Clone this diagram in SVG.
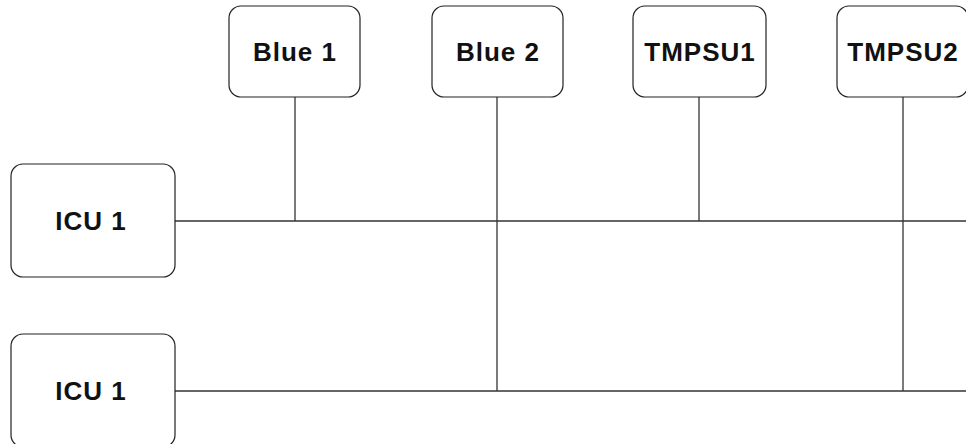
<svg xmlns="http://www.w3.org/2000/svg" width="966" height="444" viewBox="0 0 966 444">
  <style>
    .box { fill: #ffffff; stroke: #222222; stroke-width: 1.2; }
    .lbl { font-family: "Liberation Sans", Arial, sans-serif; font-weight: bold; font-size: 26px; letter-spacing: 1px; fill: #111111; text-anchor: middle; }
    .wire { stroke: #333333; stroke-width: 1.3; fill: none; }
  </style>
  <rect width="966" height="444" fill="#ffffff"/>

  <g id="connectors">
    <!-- upper bus -->
    <line class="wire" x1="175" y1="221" x2="966" y2="221"/>
    <!-- lower bus -->
    <line class="wire" x1="175" y1="391" x2="966" y2="391"/>
    <!-- drops -->
    <line class="wire" x1="295" y1="97" x2="295" y2="221"/>
    <line class="wire" x1="497" y1="97" x2="497" y2="391"/>
    <line class="wire" x1="699" y1="97" x2="699" y2="221"/>
    <line class="wire" x1="903" y1="97" x2="903" y2="391"/>
  </g>

  <g id="blue1">
    <rect class="box" x="229" y="6" width="131" height="91" rx="12"/>
    <text class="lbl" x="295" y="61">Blue 1</text>
  </g>
  <g id="blue2">
    <rect class="box" x="432" y="6" width="131" height="91" rx="12"/>
    <text class="lbl" x="498" y="61">Blue 2</text>
  </g>
  <g id="tmpsu1">
    <rect class="box" x="633" y="6" width="133" height="91" rx="12"/>
    <text class="lbl" x="700" y="61">TMPSU1</text>
  </g>
  <g id="tmpsu2">
    <rect class="box" x="837" y="6" width="131" height="91" rx="12"/>
    <text class="lbl" x="903" y="61">TMPSU2</text>
  </g>
  <g id="icu1a">
    <rect class="box" x="11" y="164" width="164" height="113" rx="12"/>
    <text class="lbl" x="91" y="230">ICU 1</text>
  </g>
  <g id="icu1b">
    <rect class="box" x="11" y="334" width="164" height="113" rx="12"/>
    <text class="lbl" x="91" y="400">ICU 1</text>
  </g>
</svg>
